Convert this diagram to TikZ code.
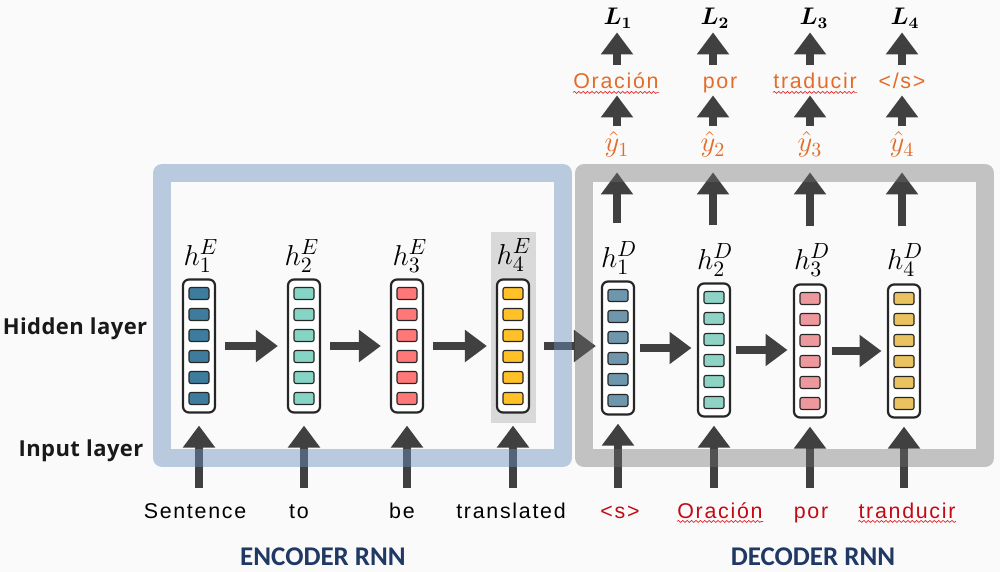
\documentclass[tikz,border=0pt]{standalone}
\usepackage{fontspec}
\setmainfont{Liberation Sans}
\newfontfamily\wordfont[LetterSpace=8]{Liberation Sans}
\newfontfamily\layerfont[LetterSpace=2]{Open Sans}
\newfontfamily\rnnfont{Carlito}
\usetikzlibrary{arrows.meta,calc,decorations.pathmorphing}
\definecolor{bgc}{RGB}{250,250,250}
\definecolor{arrowc}{RGB}{64,64,64}
\definecolor{encc}{RGB}{110,145,190}
\definecolor{decc}{RGB}{110,110,110}
\definecolor{hlgray}{RGB}{217,217,217}
\definecolor{c1E}{RGB}{62,124,158}
\definecolor{c2E}{RGB}{134,212,196}
\definecolor{c3E}{RGB}{255,120,120}
\definecolor{c4E}{RGB}{255,192,40}
\definecolor{c1D}{RGB}{110,150,172}
\definecolor{c2D}{RGB}{142,211,197}
\definecolor{c3D}{RGB}{236,152,156}
\definecolor{c4D}{RGB}{234,194,96}
\definecolor{orangec}{RGB}{228,108,40}
\definecolor{redc}{RGB}{195,10,20}
\definecolor{navyc}{RGB}{31,56,100}
\definecolor{squigc}{RGB}{230,40,40}
\begin{document}
\begin{tikzpicture}[x=0.5pt,y=-0.5pt,
  blk/.style={draw=arrowc, line width=4pt, -{Triangle[length=11pt,width=15.5pt]}},
  colbox/.style={draw=black!85, fill=white, line width=1.1pt, rounded corners=3pt, minimum width=16pt, minimum height=66.5pt, inner sep=0pt},
  cell/.style={draw=black!85, line width=0.55pt, rounded corners=1pt, minimum width=10pt, minimum height=6pt, inner sep=0pt},
  hlab/.style={font=\fontsize{15.5}{17}\selectfont, inner sep=0pt},
  word/.style={font=\wordfont\fontsize{10.7}{12}\selectfont, text height=8pt, text depth=1.5pt, inner sep=0pt, anchor=base},
  outword/.style={word, text=orangec},
  inred/.style={word, text=redc},
  lossl/.style={font=\fontsize{11.5}{13}\selectfont\boldmath, text height=8pt, text depth=3pt, inner sep=0pt, anchor=base},
  yhat/.style={font=\fontsize{14.5}{16}\selectfont, text=orangec, text height=8.5pt, text depth=2.5pt, inner sep=0pt, anchor=base},
  layerlab/.style={font=\layerfont\bfseries\fontsize{11}{13}\selectfont, text=black!90, inner sep=0pt, anchor=base},
  rnnlab/.style={font=\rnnfont\bfseries\fontsize{13.5}{15}\selectfont, text=navyc, inner sep=0pt, anchor=base},
  encframe/.style={draw=encc, line width=9pt, opacity=.45, line join=round},
  decframe/.style={draw=decc, line width=9pt, opacity=.4, line join=round},
  squig/.style={draw=squigc, line width=0.35pt, decorate, decoration={snake, amplitude=0.5pt, segment length=2.2pt}}
]
\fill[bgc] (0,0) rectangle (1000,572);
\useasboundingbox (0,0) rectangle (1000,572);

% highlight behind last encoder state
\fill[hlgray] (491,232) rectangle (536,423);

% hidden-state columns
\foreach \n/\x/\y/\col in {e1/199/346/c1E, e2/304/346/c2E, e3/407/346/c3E, e4/513/346/c4E,
                         d1/618/348/c1D, d2/714/350/c2D, d3/810/351/c3D, d4/904/351/c4D}{
  \node[colbox] (\n) at (\x,\y) {};
  \foreach \k in {1,...,6}
    \node[cell, fill=\col] (\n c\k) at (\x,\y-73.5+21*\k) {};
}

% state labels
\node[hlab] (he1) at (201,256) {$h_1^E$};
\node[hlab] (he2) at (302,256) {$h_2^E$};
\node[hlab] (he3) at (410,256) {$h_3^E$};
\node[hlab] (he4) at (514,255) {$h_4^E$};
\node[hlab] (hd1) at (619,258) {$h_1^D$};
\node[hlab] (hd2) at (715,260) {$h_2^D$};
\node[hlab] (hd3) at (812,260) {$h_3^D$};
\node[hlab] (hd4) at (905,260) {$h_4^D$};

% input words
\node[word] (w1) at (195,518) {Sentence};
\node[word] (w2) at (299,518) {to};
\node[word] (w3) at (402,518) {be};
\node[word] (w4) at (511,518) {translated};
\node[inred] (w5) at (620,518) {<s>};
\node[inred] (w6) at (720,518) {Oración};
\node[inred] (w7) at (811,518) {por};
\node[inred] (w8) at (907,518) {tranducir};

% outputs
\node[yhat] (y1) at (617,152) {$\hat{y}_1$};
\node[yhat] (y2) at (713,152) {$\hat{y}_2$};
\node[yhat] (y3) at (810,152) {$\hat{y}_3$};
\node[yhat] (y4) at (902,152) {$\hat{y}_4$};
\node[outword] (o1) at (616,89) {Oración};
\node[outword] (o2) at (720,89) {por};
\node[outword] (o3) at (815,89) {traducir};
\node[outword] (o4) at (902,89) {</s>};
\node[lossl] (l1) at (618,25) {$L_1$};
\node[lossl] (l2) at (715,25) {$L_2$};
\node[lossl] (l3) at (814,25) {$L_3$};
\node[lossl] (l4) at (905,25) {$L_4$};

% spell-check squiggles
\draw[squig] (o1.south west) -- (o1.south east);
\draw[squig] (o3.south west) -- (o3.south east);
\draw[squig] (w6.south west) -- (w6.south east);
\draw[squig] (w8.south west) -- (w8.south east);

% recurrent arrows
\draw[blk, shorten <=4.5pt, shorten >=4.5pt] (e1.east) -- (e1.east -| e2.west);
\draw[blk, shorten <=4.5pt, shorten >=4.5pt] (e2.east) -- (e2.east -| e3.west);
\draw[blk, shorten <=4.5pt, shorten >=4.5pt] (e3.east) -- (e3.east -| e4.west);
\draw[blk, shorten <=2.3pt, shorten >=2.7pt] (d1.east) -- (d1.east -| d2.west);
\draw[blk, shorten <=2.3pt, shorten >=2.7pt] (d2.east) -- (d2.east -| d3.west);
\draw[blk, shorten <=2.3pt, shorten >=2.7pt] (d3.east) -- (d3.east -| d4.west);

% input arrows
\foreach \c/\w in {e1/w1, e2/w2, e3/w3, e4/w4}
  \draw[blk, shorten <=7pt, shorten >=6pt] (\c.south |- \w.north) -- (\c.south);
\foreach \c/\w in {d1/w5, d2/w6, d3/w7, d4/w8}
  \draw[blk, shorten <=7pt, shorten >=4pt] (\c.south |- \w.north) -- (\c.south);

% decoder output arrows
\foreach \c/\y/\o/\l in {d1/y1/o1/l1, d2/y2/o2/l2, d3/y3/o3/l3, d4/y4/o4/l4}{
  \draw[blk, shorten <=28.5pt, shorten >=7.5pt] (\y.south |- \c.north) -- (\y.south);
  \draw[blk, shorten <=4.5pt, shorten >=1.5pt] (\y.north) -- (\y.north |- \o.south);
  \draw[blk, shorten <=4pt, shorten >=0.5pt] (\y.north |- \o.north) -- (\y.north |- \l.south);
}

% context arrow encoder -> decoder
\draw[blk, shorten <=6.8pt, shorten >=2.5pt] (e4.east) -- (e4.east -| d1.west);

% frames (semi-transparent, over the arrows)
\draw[encframe] (162,173) rectangle (563,458);
\draw[decframe] (584,173) rectangle (985,458);

% layer labels
\node[layerlab] (hid) at (75,334) {Hidden layer};
\node[layerlab] (inp) at (81,456) {Input layer};
\node[rnnlab] (enc) at (323,565) {ENCODER RNN};
\node[rnnlab] (dec) at (813,565) {DECODER RNN};
\end{tikzpicture}
\end{document}
